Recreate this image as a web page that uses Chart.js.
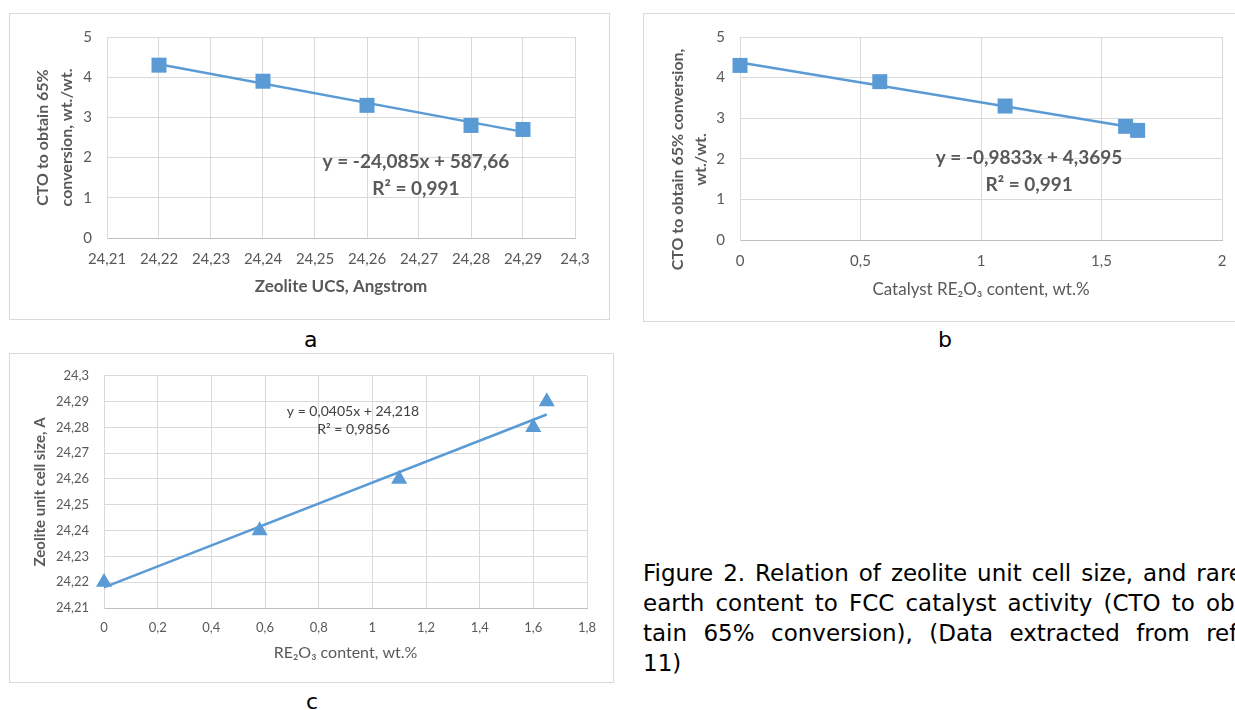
<!DOCTYPE html>
<html>
<head>
<meta charset="utf-8">
<script src="https://cdn.jsdelivr.net/npm/chart.js@4.4.0/dist/chart.umd.min.js"></script>
<style>
  html, body { margin: 0; padding: 0; background: #fff; width: 1235px; height: 710px; overflow: hidden; }
  .box { position: absolute; border: 1px solid #d9d9d9; box-sizing: border-box; }
  canvas { position: absolute; }
  .lbl { position: absolute; font: 22px "DejaVu Sans"; line-height: 26px; color: #000; }
  #caption { position: absolute; left: 643px; top: 558px; width: 600px; font: 23px "DejaVu Sans"; line-height: 30px; color: #000; }
  #caption div { text-align: justify; text-align-last: justify; white-space: nowrap; }
  #caption div.last { text-align-last: left; }
</style>
</head>
<body>

<div class="box" style="left:9px;top:13px;width:601px;height:307px"></div>
<canvas id="chartA" width="601" height="307" style="left:9px;top:13px"></canvas>

<div class="box" style="left:643px;top:13px;width:602px;height:309px"></div>
<canvas id="chartB" width="602" height="309" style="left:643px;top:13px"></canvas>

<div class="box" style="left:9px;top:353px;width:605px;height:330px"></div>
<canvas id="chartC" width="605" height="330" style="left:9px;top:353px"></canvas>

<div class="lbl" style="left:304px;top:327px">a</div>
<div class="lbl" style="left:938px;top:327px">b</div>
<div class="lbl" style="left:306px;top:689px">c</div>

<div id="caption">
  <div>Figure 2. Relation of zeolite unit cell size, and rare</div>
  <div>earth content to FCC catalyst activity (CTO to ob-</div>
  <div>tain 65% conversion), (Data extracted from ref.</div>
  <div class="last">11)</div>
</div>

<script>
// chart a: CTO vs zeolite UCS
const ucsA = [24.22, 24.24, 24.26, 24.28, 24.29];
const ctoA = [4.3, 3.9, 3.3, 2.8, 2.7];
const trendXA = [24.22, 24.29];
const trendYA = [4.32, 2.64];
const xTicksA = [24.21, 24.22, 24.23, 24.24, 24.25, 24.26, 24.27, 24.28, 24.29, 24.3];
const xLabelsA = ["24,21", "24,22", "24,23", "24,24", "24,25", "24,26", "24,27", "24,28", "24,29", "24,3"];

// chart b: CTO vs catalyst RE2O3
const reB = [0, 0.58, 1.1, 1.6, 1.65];
const ctoB = [4.3, 3.9, 3.3, 2.8, 2.7];
const trendXB = [0, 1.65];
const trendYB = [4.37, 2.75];
const xTicksB = [0, 0.5, 1, 1.5, 2];
const xLabelsB = ["0", "0,5", "1", "1,5", "2"];

const yTicksAB = [0, 1, 2, 3, 4, 5];
const yLabelsAB = ["0", "1", "2", "3", "4", "5"];

// chart c: UCS vs RE2O3
const reC = [0, 0.58, 1.1, 1.6, 1.65];
const ucsC = [24.22, 24.24, 24.26, 24.28, 24.29];
const trendXC = [0, 1.65];
const trendYC = [24.218, 24.285];
const xTicksC = [0, 0.2, 0.4, 0.6, 0.8, 1, 1.2, 1.4, 1.6, 1.8];
const xLabelsC = ["0", "0,2", "0,4", "0,6", "0,8", "1", "1,2", "1,4", "1,6", "1,8"];
const yTicksC = [24.21, 24.22, 24.23, 24.24, 24.25, 24.26, 24.27, 24.28, 24.29, 24.3];
const yLabelsC = ["24,21", "24,22", "24,23", "24,24", "24,25", "24,26", "24,27", "24,28", "24,29", "24,3"];

const BLUE = "#5B9BD5";
const GREY = "#595959";

const pts = (xs, ys) => xs.map((x, i) => ({ x: x, y: ys[i] }));

// equation text + optional hand placed axis title
const notesPlugin = {
  id: "notes",
  afterDatasetsDraw(chart, args, o) {
    const ctx = chart.ctx;
    const xs = chart.scales.x, ys = chart.scales.y;
    ctx.save();
    ctx.fillStyle = o.color;
    ctx.textAlign = "center";
    ctx.textBaseline = "middle";
    ctx.font = o.font;
    (o.items || []).forEach(it => {
      ctx.fillText(it.text, xs.getPixelForValue(it.x), ys.getPixelForValue(it.y));
    });
    if (o.side) {
      ctx.font = o.side.font;
      ctx.translate(0, (ys.top + ys.bottom) / 2 + o.side.shift);
      ctx.rotate(-Math.PI / 2);
      o.side.lines.forEach((t, i) => ctx.fillText(t, 0, o.side.xs[i]));
    }
    ctx.restore();
  }
};

function makeChart(id, cfg) {
  const tickFont = { family: "Lato", size: cfg.tickSize };
  return new Chart(document.getElementById(id), {
    type: "scatter",
    data: {
      datasets: [
        {
          data: pts(cfg.x, cfg.y),
          pointStyle: cfg.marker,
          pointRadius: cfg.radius,
          pointHoverRadius: cfg.radius,
          backgroundColor: BLUE,
          borderColor: BLUE,
          borderWidth: 0,
          clip: false
        },
        {
          data: pts(cfg.tx, cfg.ty),
          showLine: true,
          borderColor: BLUE,
          borderWidth: 2.5,
          pointRadius: 0,
          clip: false
        }
      ]
    },
    options: {
      responsive: false,
      animation: false,
      devicePixelRatio: 1,
      layout: { padding: cfg.pad },
      plugins: {
        legend: { display: false },
        tooltip: { enabled: false },
        notes: cfg.notes
      },
      scales: {
        x: {
          type: "linear",
          min: cfg.xTicks[0],
          max: cfg.xTicks[cfg.xTicks.length - 1],
          afterBuildTicks: s => { s.ticks = cfg.xTicks.map(v => ({ value: v })); },
          afterFit: s => { s.height = cfg.xH; },
          ticks: {
            callback: (v, i) => cfg.xLabels[i],
            font: tickFont, color: GREY, padding: 12,
            maxRotation: 0, autoSkip: false
          },
          grid: { color: "#d9d9d9", drawTicks: false },
          border: { color: "#bfbfbf" },
          title: {
            display: true, text: cfg.xTitle, color: GREY,
            font: cfg.xTitleFont, padding: { top: 0, bottom: cfg.xTitlePad }
          }
        },
        y: {
          type: "linear",
          min: cfg.yTicks[0],
          max: cfg.yTicks[cfg.yTicks.length - 1],
          afterBuildTicks: s => { s.ticks = cfg.yTicks.map(v => ({ value: v })); },
          afterFit: s => { s.width = cfg.yW; },
          ticks: {
            callback: (v, i) => cfg.yLabels[i],
            font: tickFont, color: GREY, padding: 15, autoSkip: false
          },
          grid: { color: "#d9d9d9", drawTicks: false },
          border: { color: "#d9d9d9" },
          title: {
            display: !!cfg.yTitle, text: cfg.yTitle || "", color: GREY,
            font: cfg.yTitleFont, padding: { top: cfg.yTitlePad, bottom: 0 }
          }
        }
      }
    },
    plugins: [notesPlugin]
  });
}

makeChart("chartA", {
  x: ucsA, y: ctoA, tx: trendXA, ty: trendYA,
  marker: "rect", radius: 10.6, tickSize: 15,
  xTicks: xTicksA, xLabels: xLabelsA, yTicks: yTicksAB, yLabels: yLabelsAB,
  pad: { left: 0, top: 19, right: 35, bottom: 0 }, xH: 82, yW: 98,
  xTitle: "Zeolite UCS, Angstrom", xTitleFont: { family: "Lato", size: 17, weight: "bold" }, xTitlePad: 23,
  yTitle: ["CTO to obtain 65%", "conversion, wt./wt."],
  yTitleFont: { family: "Lato", size: 16, weight: "bold", lineHeight: "24px" }, yTitlePad: 22,
  notes: {
    color: GREY, font: "bold 19px Lato",
    items: [
      { text: "y = -24,085x + 587,66", x: 24.2694, y: 1.89 },
      { text: "R\u00b2 = 0,991", x: 24.2694, y: 1.21 }
    ]
  }
});

makeChart("chartB", {
  x: reB, y: ctoB, tx: trendXB, ty: trendYB,
  marker: "rect", radius: 10.6, tickSize: 15,
  xTicks: xTicksB, xLabels: xLabelsB, yTicks: yTicksAB, yLabels: yLabelsAB,
  pad: { left: 0, top: 19, right: 23, bottom: 0 }, xH: 82, yW: 97,
  xTitle: "Catalyst RE\u2082O\u2083 content, wt.%", xTitleFont: { family: "Lato", size: 17 }, xTitlePad: 22,
  yTitle: null,
  notes: {
    color: GREY, font: "bold 19px Lato",
    items: [
      { text: "y = -0,9833x + 4,3695", x: 1.199, y: 2.02 },
      { text: "R\u00b2 = 0,991", x: 1.2, y: 1.37 }
    ],
    side: {
      font: "bold 16px Lato", shift: 21, xs: [35, 58],
      lines: ["CTO to obtain 65% conversion,", "wt./wt."]
    }
  }
});

makeChart("chartC", {
  x: reC, y: ucsC, tx: trendXC, ty: trendYC,
  marker: "triangle", radius: 9.3, tickSize: 13,
  xTicks: xTicksC, xLabels: xLabelsC, yTicks: yTicksC, yLabels: yLabelsC,
  pad: { left: 0, top: 19, right: 27, bottom: 0 }, xH: 75, yW: 95,
  xTitle: "RE\u2082O\u2083 content, wt.%", xTitleFont: { family: "Lato", size: 16 }, xTitlePad: 21,
  yTitle: "Zeolite unit cell size, A",
  yTitleFont: { family: "Lato", size: 15, weight: "bold" }, yTitlePad: 22,
  notes: {
    color: "#404040", font: "14px Lato",
    items: [
      { text: "y = 0,0405x + 24,218", x: 0.928, y: 24.2863 },
      { text: "R\u00b2 = 0,9856", x: 0.93, y: 24.279 }
    ]
  }
});
</script>
</body>
</html>
